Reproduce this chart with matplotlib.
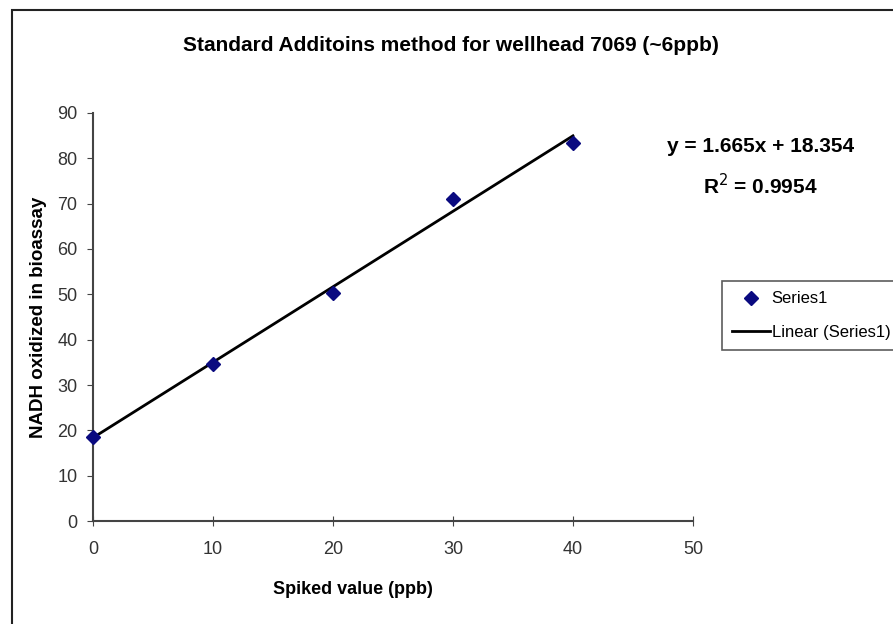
import numpy as np
import matplotlib
matplotlib.use("Agg")
import matplotlib.pyplot as plt
from matplotlib.patches import Rectangle

# Spiked standard additions and measured NADH response
spiked = [0, 10, 20, 30, 40]
nadh = [18.5, 34.6, 50.3, 71.0, 83.4]
slope = 1.665
intercept = 18.354
r2 = 0.9954

arial = ["Liberation Sans", "DejaVu Sans"]

fig = plt.figure(figsize=(8.93, 6.24), dpi=100)
ax = fig.add_axes([0.104, 0.165, 0.672, 0.654])

# trendline across the data range
xfit = np.array([min(spiked), max(spiked)])
ax.plot(xfit, slope * xfit + intercept, color="black", lw=2, label="Linear (Series1)", zorder=2)
ax.plot(spiked, nadh, linestyle="none", marker="D", markersize=7, color="#0a0a80",
        label="Series1", zorder=3, clip_on=False)

ax.set_xlim(0, 50)
ax.set_ylim(0, 90)
ax.set_xticks(range(0, 51, 10))
ax.set_yticks(range(0, 91, 10))
for s in ["top", "right"]:
    ax.spines[s].set_visible(False)
for s in ["left", "bottom"]:
    ax.spines[s].set_color("#444444")
    ax.spines[s].set_linewidth(1.5)
ax.tick_params(axis="x", direction="inout", length=7, colors="#444444", labelcolor="#333333", pad=11)
ax.tick_params(axis="y", direction="out", length=4, colors="#444444", labelcolor="#333333", pad=7)
for lab in ax.get_xticklabels() + ax.get_yticklabels():
    lab.set_family(arial)
    lab.set_fontsize(13)

ax.set_xlabel("Spiked value (ppb)", family=arial, fontsize=13, fontweight="bold")
ax.xaxis.set_label_coords(0.433, -0.148)
ax.set_ylabel("NADH oxidized in bioassay", family=arial, fontsize=13.5, fontweight="bold")
ax.yaxis.set_label_coords(-0.077, 0.5)

fig.text(0.505, 0.927, "Standard Additoins method for wellhead 7069 (~6ppb)",
         family=arial, fontsize=15, fontweight="bold", ha="center", va="center")

fig.text(0.852, 0.766, f"y = {slope}x + {intercept}", family=arial, fontsize=15,
         fontweight="bold", ha="center", va="center")
fig.text(0.852, 0.703, f"R$^2$ = {r2}", family=arial, fontsize=15,
         fontweight="bold", ha="center", va="center")

handles, labels = ax.get_legend_handles_labels()
leg = fig.legend(handles[::-1], labels[::-1], loc="upper left", bbox_to_anchor=(0.808, 0.549),
                 frameon=True, fancybox=False, edgecolor="#333333", borderpad=0.6,
                 handlelength=2.3, handletextpad=0.1, labelspacing=1.1,
                 borderaxespad=0, prop={"family": arial, "size": 12})
leg.get_frame().set_linewidth(1.2)

# outer chart frame
fig.patches.append(Rectangle((0.013, -0.1), 1.2, 1.084, transform=fig.transFigure,
                             fill=False, edgecolor="#222222", lw=1.5))

fig.savefig("out.png", dpi=100)
